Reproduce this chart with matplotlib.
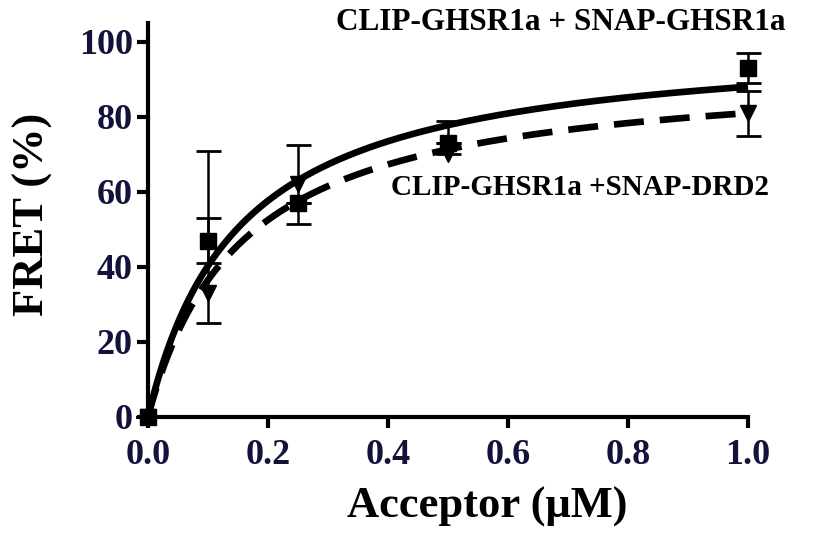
import numpy as np
import matplotlib
matplotlib.use("Agg")
import matplotlib.pyplot as plt

plt.rcParams['font.family'] = ['Liberation Serif', 'DejaVu Serif']
plt.rcParams['font.weight'] = 'bold'

# acceptor concentration (uM)
conc = [0.0, 0.1, 0.25, 0.5, 1.0]

# CLIP-GHSR1a + SNAP-GHSR1a (squares, solid fit)
fret_ghsr = [0.0, 47, 57, 73, 93]
err_ghsr_lo = [0, 6, 0, 0, 4]
err_ghsr_hi = [0, 6, 0, 0, 4]
bmax_ghsr, kd_ghsr = 101.4, 0.152

# CLIP-GHSR1a + SNAP-DRD2 (triangles, dashed fit)
fret_drd2 = [0.0, 33, 62, 70, 81]
err_drd2_lo = [0, 8, 10.5, 0, 6]
err_drd2_hi = [0, 38, 10.5, 9, 6]
bmax_drd2, kd_drd2 = 93.7, 0.157

xticks = [0.0, 0.2, 0.4, 0.6, 0.8, 1.0]
yticks = [0, 20, 40, 60, 80, 100]

tick_col = '#12123a'

fig = plt.figure(figsize=(8.14, 5.35), dpi=100)
ax = fig.add_axes([0.1818, 0.2211, 0.7372, 0.7358])

xs = np.linspace(0, 1, 300)
ax.plot(xs, bmax_ghsr * xs / (kd_ghsr + xs), color='black', lw=4.8,
        solid_capstyle='butt', clip_on=False, zorder=3)
ax.plot(xs, bmax_drd2 * xs / (kd_drd2 + xs), color='black', lw=4.8,
        dashes=(4.5, 2.4), dash_capstyle='butt', clip_on=False, zorder=3)

ax.errorbar(conc, fret_ghsr, yerr=[err_ghsr_lo, err_ghsr_hi], fmt='s',
            color='black', ms=11, elinewidth=1.8, capsize=9, capthick=2,
            clip_on=False, zorder=4)
ax.errorbar(conc, fret_drd2, yerr=[err_drd2_lo, err_drd2_hi], fmt='v',
            color='black', ms=12, elinewidth=1.8, capsize=9, capthick=2,
            clip_on=False, zorder=4)

ax.set_xlim(0, 1.0)
ax.set_ylim(0, 105)
ax.set_xticks(xticks)
ax.set_xticklabels([f'{t:.1f}' for t in xticks])
ax.set_yticks(yticks)

for side in ['top', 'right']:
    ax.spines[side].set_visible(False)
for side in ['left', 'bottom']:
    ax.spines[side].set_linewidth(3)
ax.tick_params(axis='both', direction='out', length=8, width=3,
               labelsize=26, labelcolor=tick_col)
ax.tick_params(axis='x', pad=8)
ax.tick_params(axis='y', pad=3)
for lab in ax.get_xticklabels() + ax.get_yticklabels():
    lab.set_fontweight('bold')

ax.set_xlabel('Acceptor (\u03bcM)', fontsize=32, fontweight='bold')
ax.set_ylabel('FRET (%)', fontsize=32, fontweight='bold')
ax.xaxis.set_label_coords(0.565, -0.178)
ax.yaxis.set_label_coords(-0.158, 0.515)

fig.text(0.965, 0.958, 'CLIP-GHSR1a + SNAP-GHSR1a', ha='right', va='center',
         fontsize=22.5, fontweight='bold')
fig.text(0.945, 0.650, 'CLIP-GHSR1a +SNAP-DRD2', ha='right', va='center',
         fontsize=21, fontweight='bold')

fig.savefig('out.png', dpi=100)
